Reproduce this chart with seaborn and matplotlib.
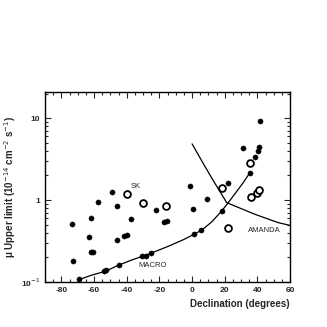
import matplotlib
matplotlib.use("Agg")
import matplotlib.pyplot as plt
import seaborn as sns
import pandas as pd
import numpy as np
from matplotlib.ticker import FixedLocator, MultipleLocator, NullFormatter

sns.set_style("ticks")
plt.rcParams['font.family'] = ['Liberation Sans', 'DejaVu Sans']

# Filled circles (upper limits)
filled_dec = [-73.7, -72.7, -69.5, -63.2, -62.0, -62.0, -60.8, -57.5, -54.0, -53.0,
              -49.3, -45.9, -45.7, -41.5, -40.0, -44.5, -37.6, -30.7, -28.5, -25.2,
              -21.8, -17.3, -15.5, -1.1, 0.3, 1.1, 5.6, 8.9, 18.4, 22.3,
              35.5, 31.0, 38.5, 40.5, 41.0, 41.7]
filled_mu = [0.51, 0.18, 0.108, 0.357, 0.60, 0.23, 0.23, 0.96, 0.135, 0.14,
             1.26, 0.84, 0.325, 0.36, 0.37, 0.16, 0.58, 0.21, 0.21, 0.225,
             0.75, 0.54, 0.56, 1.48, 0.78, 0.38, 0.43, 1.02, 0.73, 1.63,
             2.15, 4.27, 3.37, 3.96, 4.5, 9.3]

# Open circles (SK)
open_dec = [-39.8, -30.0, -15.7, 18.6, 22.3, 35.8, 39.9, 41.1, 35.2]
open_mu = [1.17, 0.92, 0.85, 1.39, 0.46, 1.09, 1.21, 1.32, 2.80]

# MACRO curve
macro_dec = [-70, -62, -53, -45, -37, -29, -25, -15, -5, 1, 6, 12, 18, 22, 27, 31, 35]
macro_mu = [0.105, 0.12, 0.135, 0.16, 0.185, 0.21, 0.225, 0.27, 0.33, 0.38, 0.43, 0.54, 0.73, 0.92, 1.25, 1.6, 2.1]

# AMANDA curve
amanda_dec = [0.0, 8.0, 14.0, 21.2, 38.5, 52.7, 60.0]
amanda_mu = [4.86, 2.55, 1.6, 0.93, 0.67, 0.53, 0.49]

fig = plt.figure(figsize=(3.27, 3.27), dpi=100)
ax = fig.add_axes([0.138, 0.138, 0.749, 0.581])

sns.lineplot(x=macro_dec, y=macro_mu, ax=ax, color='black', lw=0.9, sort=False)
sns.lineplot(x=amanda_dec, y=amanda_mu, ax=ax, color='black', lw=0.9, sort=False)
sns.scatterplot(x=filled_dec, y=filled_mu, ax=ax, color='black', s=14, edgecolor='black', linewidth=0.3)
sns.scatterplot(x=open_dec, y=open_mu, ax=ax, facecolor='white', edgecolor='black', s=24, linewidth=1.3)

ax.set_yscale('log')
ax.set_xlim(-90, 60)
ax.set_ylim(0.1, 21)
ax.xaxis.set_major_locator(MultipleLocator(20))
ax.xaxis.set_minor_locator(MultipleLocator(5))
ax.yaxis.set_major_locator(FixedLocator([0.1, 1, 10]))
ax.set_yticklabels(['10$^{-1}$', '1', '10'], fontsize=6, fontweight='bold')
ax.set_xticks([-80, -60, -40, -20, 0, 20, 40, 60])
ax.set_xticklabels(['-80', '-60', '-40', '-20', '0', '20', '40', '60'], fontsize=6, fontweight='bold')
ax.tick_params(which='both', direction='in', top=True, right=True, width=0.8)
ax.tick_params(which='major', length=4)
ax.tick_params(which='minor', length=2)
ax.yaxis.set_minor_formatter(NullFormatter())
for s in ax.spines.values():
    s.set_linewidth(1.0)
    s.set_color('black')

ax.set_xlabel('Declination (degrees)', fontsize=7, fontweight='bold', loc='right')
ax.set_ylabel('μ Upper limit (10$^{-14}$ cm$^{-2}$ s$^{-1}$)', fontsize=7, fontweight='bold')
ax.yaxis.set_label_coords(-0.11, 0.5)

ax.text(-37.8, 1.33, 'SK', fontsize=5.5, ha='left', va='bottom')
ax.text(-33, 0.16, 'MACRO', fontsize=5.5, ha='left', va='center')
ax.text(34.5, 0.43, 'AMANDA', fontsize=5.5, ha='left', va='center')

fig.savefig('out.png', dpi=100)
